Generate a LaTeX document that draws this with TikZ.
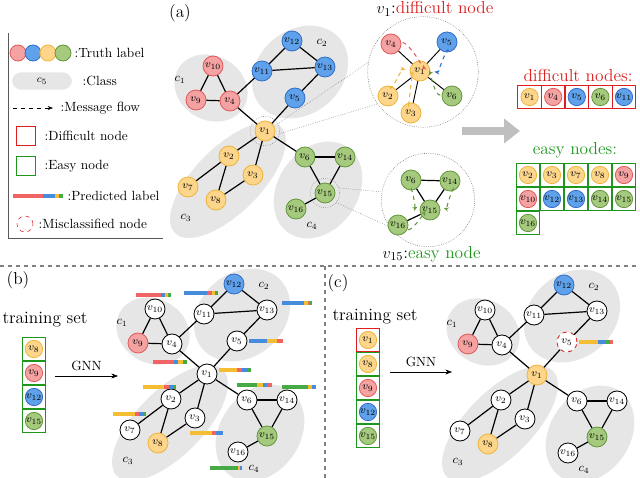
\documentclass[tikz,border=0pt]{standalone}
\usepackage{amsmath,amssymb}
\usepackage{tikz}
\usetikzlibrary{arrows.meta}

\definecolor{redf}{RGB}{244,162,162}\definecolor{redd}{RGB}{225,90,90}
\definecolor{bluf}{RGB}{95,162,235}\definecolor{blud}{RGB}{50,110,200}
\definecolor{ylwf}{RGB}{253,214,140}\definecolor{ylwd}{RGB}{238,180,60}
\definecolor{grnf}{RGB}{165,202,125}\definecolor{grnd}{RGB}{100,150,60}
\definecolor{clsg}{RGB}{230,230,230}
\definecolor{barr}{RGB}{240,100,100}\definecolor{barb}{RGB}{70,140,220}
\definecolor{bary}{RGB}{245,190,50}\definecolor{barg}{RGB}{70,170,70}
\definecolor{boxr}{RGB}{220,30,30}\definecolor{boxg}{RGB}{30,150,30}

\tikzset{
  vx/.style={circle,draw,line width=0.6pt,minimum size=15pt,inner sep=0pt,font=\footnotesize},
  kn/.style={vx,fill=#1f,draw=#1d},
  gn/.style={kn=#1},
  hv1/.style={}, hv5/.style={},
  cls/.style={fill=clsg},
  edge/.style={line width=0.9pt},
  flow/.style={dashed,line width=0.8pt,shorten <=1pt,shorten >=3pt,-{Stealth[length=4pt]}},
  txt/.style={font=\fontsize{10}{12}\selectfont},
  bigt/.style={font=\fontsize{13}{15}\selectfont},
}

% one copy of the class graph, #1 = name prefix
\newcommand{\drawclassgraph}[1]{
  \fill[cls, rotate around={30:(211,88)}] (211,88) ellipse [x radius=38, y radius=32];
  \fill[cls, rotate around={-40:(300,72)}] (300,72) ellipse [x radius=52, y radius=42];
  \fill[cls, rotate around={-45:(228,180)}] (228,180) ellipse [x radius=75, y radius=33];
  \fill[cls, rotate around={-55:(318,190)}] (318,190) ellipse [x radius=52, y radius=40];
  \node[font=\small] at (180,80) {$c_1$};
  \node[font=\small] at (322,43) {$c_2$};
  \node[font=\small] at (186,218) {$c_3$};
  \node[font=\small] at (312,226) {$c_4$};
  \node[gn=ylw,hv1] (#11) at (265,131) {$v_{1}$};
  \node[gn=ylw] (#12) at (229,156) {$v_{2}$};
  \node[gn=ylw] (#13) at (253,175) {$v_{3}$};
  \node[gn=red] (#14) at (230,101) {$v_{4}$};
  \node[gn=blu,hv5] (#15) at (295,98) {$v_{5}$};
  \node[gn=grn] (#16) at (305,157) {$v_{6}$};
  \node[gn=ylw] (#17) at (188,187) {$v_{7}$};
  \node[kn=ylw] (#18) at (216,200) {$v_{8}$};
  \node[kn=red] (#19) at (196,100) {$v_{9}$};
  \node[gn=red] (#110) at (213,66) {$v_{10}$};
  \node[gn=blu] (#111) at (262,71) {$v_{11}$};
  \node[kn=blu] (#112) at (292,41) {$v_{12}$};
  \node[gn=blu] (#113) at (325,67) {$v_{13}$};
  \node[gn=grn] (#114) at (345,157) {$v_{14}$};
  \node[kn=grn] (#115) at (325,193) {$v_{15}$};
  \node[gn=grn] (#116) at (296,209) {$v_{16}$};
  \foreach \s/\t in {10/9,10/4,9/4,4/11,4/1,11/12,11/13,12/13,13/5,5/1,1/2,1/3,1/6,2/7,2/8,3/8,6/14,6/15,14/15,15/16}
    \draw[edge] (#1\s) -- (#1\t);
}

% predicted label bar: x, y, then four segment lengths r b y g
\newcommand{\predbar}[6]{
  \fill[barr] (#1,#2) rectangle ++(#3,4);
  \fill[barb] (#1+#3,#2) rectangle ++(#4,4);
  \fill[bary] (#1+#3+#4,#2) rectangle ++(#5,4);
  \fill[barg] (#1+#3+#4+#5,#2) rectangle ++(#6,4);
}

\begin{document}
\begin{tikzpicture}[x=0.75pt,y=0.75pt,yscale=-1,xscale=1]
  \useasboundingbox (0,0) rectangle (640,478);

  % legend
  \draw[gray!70!black] (8,33) -- (8,238) -- (163,238);
  \foreach \c [count=\i] in {red,blu,ylw,grn}
    \node[kn=\c,minimum size=12pt] (lg\i) at (3+15*\i,53) {};
  \node[txt,anchor=west] (lt1) at (70,53) {:Truth label};
  \node[fill=clsg,rounded corners=7pt,minimum width=45pt,minimum height=13pt,font=\footnotesize] (lc) at (42,81) {$c_5$};
  \node[txt,anchor=west] (lt2) at (78,81) {:Class};
  \coordinate (la) at (13,108); \coordinate (lb) at (53,108);
  \draw[dashed,-{Stealth[length=4pt]}] (la) -- (lb);
  \node[txt,anchor=west] (lt3) at (56,108) {:Message flow};
  \node[draw=boxr,line width=0.8pt,minimum size=14pt] (ld) at (26,136) {};
  \node[txt,anchor=west] (lt4) at (40,136) {:Difficult node};
  \node[draw=boxg,line width=0.8pt,minimum size=14pt] (le) at (26,166) {};
  \node[txt,anchor=west] (lt5) at (40,166) {:Easy node};
  \predbar{13}{194}{30}{12}{4}{4}
  \node[txt,anchor=west] (lt6) at (63,196) {:Predicted label};
  \node[circle,draw=boxr,dashed,minimum size=12pt] (lm) at (25,224) {};
  \node[txt,anchor=west] (lt7) at (34,224) {:Misclassified node};

  % panel (a)
  \node[bigt] (pa) at (180,13) {(a)};
  \drawclassgraph{a}
  \node[circle,draw,densely dotted,gray,minimum size=22pt] (za) at (265,131) {};
  \node[circle,draw,densely dotted,gray,minimum size=22pt] (zb) at (325,193) {};
  \node[circle,draw,densely dotted,gray!70!black,minimum size=83pt] (ca) at (423,72) {};
  \node[circle,draw,densely dotted,gray!70!black,minimum size=70pt] (cb) at (428,200) {};
  \draw[densely dotted,gray] (za.30) -- (ca.170);
  \draw[densely dotted,gray] (za.-10) -- (ca.215);
  \draw[densely dotted,gray] (zb.20) -- (cb.170);
  \draw[densely dotted,gray] (zb.-40) -- (cb.215);
  % difficult node zoom
  \begin{scope}[every node/.append style={minimum size=14pt}]
    \node[kn=ylw] (d1) at (420,71) {$v_{1}$};
    \node[kn=red] (d4) at (391,44) {$v_{4}$};
    \node[kn=blu] (d5) at (447,42) {$v_{5}$};
    \node[kn=ylw] (d2) at (388,96) {$v_{2}$};
    \node[kn=ylw] (d3) at (411,113) {$v_{3}$};
    \node[kn=grn] (d6) at (452,96) {$v_{6}$};
    \foreach \t in {4,5,2,3,6} \draw[line width=0.7pt] (d1) -- (d\t);
    \draw[flow,redd] (d4.10) to[out=10,in=80,looseness=0.8] (d1.75);
    \draw[flow,blud] (d5.-80) to[out=-100,in=10,looseness=0.8] (d1.0);
    \draw[flow,ylwd] (d2.80) to[out=85,in=190,looseness=0.8] (d1.175);
    \draw[flow,ylwd] (d3.100) to[out=100,in=-110,looseness=0.8] (d1.-120);
    \draw[flow,grnd] (d6.175) to[out=175,in=-60,looseness=0.8] (d1.-50);
    \node[kn=grn] (e6) at (411,180) {$v_{6}$};
    \node[kn=grn] (e14) at (450,181) {$v_{14}$};
    \node[kn=grn] (e15) at (430,210) {$v_{15}$};
    \node[kn=grn] (e16) at (398,225) {$v_{16}$};
    \draw[line width=0.9pt] (e6) -- (e14) (e6) -- (e15) (e14) -- (e15) (e15) -- (e16);
    \draw[flow,grnd] (e6.-90) to[out=-90,in=150,looseness=0.8] (e15.150);
    \draw[flow,grnd] (e14.-70) to[out=-90,in=20,looseness=0.8] (e15.20);
    \draw[flow,grnd] (e16.-30) to[out=-10,in=-110,looseness=0.8] (e15.-110);
  \end{scope}
  \node[bigt,anchor=west] (dt) at (372,9) {$v_1$:\textcolor{boxr}{difficult node}};
  \node[bigt,anchor=west] (et) at (378,254) {$v_{15}$:\textcolor{boxg}{easy node}};
  % grey arrow
  \coordinate (ga) at (462,131); \coordinate (gb) at (520,131);
  \draw[line width=6pt,gray!50,-{Triangle[length=12pt,width=18pt]}] (ga) -- (gb);
  % difficult / easy lists
  \node[bigt,text=boxr] (dn) at (578,75) {difficult nodes:};
  \foreach \c/\n [count=\i] in {ylw/1,red/4,blu/5,grn/6,blu/11} {
    \node[draw=boxr,line width=0.8pt,minimum size=17.5pt,inner sep=0pt] (db\i) at (506+23.6*\i,97) {};
    \node[kn=\c,minimum size=13pt] (dv\i) at (db\i) {$v_{\n}$};
  }
  \node[bigt,text=boxg] (en) at (575,150) {easy nodes:};
  \foreach \c/\n [count=\i] in {ylw/2,ylw/3,ylw/7,ylw/8,red/9,red/10,blu/12,blu/13,grn/14,grn/15,grn/16} {
    \pgfmathtruncatemacro\col{mod(\i-1,5)}
    \pgfmathtruncatemacro\row{div(\i-1,5)}
    \node[draw=boxg,line width=0.8pt,minimum size=17.5pt,inner sep=0pt] (eb\i) at (528+24*\col,175+24*\row) {};
    \node[kn=\c,minimum size=13pt] (ev\i) at (eb\i) {$v_{\n}$};
  }

  % dividers
  \draw[dashed,gray,line width=0.8pt] (0,266) -- (640,266);
  \draw[dashed,gray,line width=0.8pt] (325,266) -- (325,478);

  % panel (b)
  \node[bigt] (pb) at (18,280) {(b)};
  \node[bigt] (tb) at (45,320) {training set};
  \foreach \c/\n [count=\i] in {ylw/8,red/9,blu/12,grn/15} {
    \node[draw=boxg,line width=0.8pt,minimum size=17.5pt,inner sep=0pt] (bb\i) at (34,325+24*\i) {};
    \node[kn=\c,minimum size=13pt] (bv\i) at (bb\i) {$v_{\n}$};
  }
  \coordinate (bga) at (55,376); \coordinate (bgb) at (118,376);
  \draw[-{Stealth[length=5pt]}] (bga) -- node[above,txt] {GNN} (bgb);
  \begin{scope}[shift={(-58,243)},gn/.style={vx,fill=white,draw=black}]
    \drawclassgraph{b}
  \end{scope}
  \predbar{136}{293}{25}{4}{3}{3}
  \fill[barb] (184,291) rectangle ++(23,4); \fill[barr] (207,291) rectangle ++(5,4);
  \fill[bary] (212,291) rectangle ++(3,4); \fill[barg] (215,291) rectangle ++(3,4);
  \fill[barb] (282,301) rectangle ++(22,4); \fill[bary] (304,301) rectangle ++(4,4);
  \fill[barr] (308,301) rectangle ++(2,4); \fill[barg] (310,301) rectangle ++(2,4);
  \fill[barb] (249,339) rectangle ++(18,4); \fill[bary] (267,339) rectangle ++(10,4);
  \fill[barr] (277,339) rectangle ++(6,4);
  \predbar{153}{360}{21}{4}{5}{4}
  \fill[bary] (219,368) rectangle ++(18,4); \fill[barr] (237,368) rectangle ++(5,4);
  \fill[barb] (242,368) rectangle ++(5,4); \fill[barg] (247,368) rectangle ++(4,4);
  \fill[bary] (143,385) rectangle ++(21,4); \fill[barr] (164,385) rectangle ++(5,4);
  \fill[barb] (169,385) rectangle ++(4,4); \fill[barg] (173,385) rectangle ++(3,4);
  \fill[bary] (113,412) rectangle ++(22,4); \fill[barr] (135,412) rectangle ++(4,4);
  \fill[barb] (139,412) rectangle ++(4,4); \fill[barg] (143,412) rectangle ++(3,4);
  \fill[bary] (190,431) rectangle ++(22,4); \fill[barr] (212,431) rectangle ++(4,4);
  \fill[barb] (216,431) rectangle ++(7,4);
  \fill[barg] (237,383) rectangle ++(20,4); \fill[bary] (257,383) rectangle ++(6,4);
  \fill[barb] (263,383) rectangle ++(4,4); \fill[barr] (267,383) rectangle ++(5,4);
  \fill[barg] (282,385) rectangle ++(26,4); \fill[bary] (308,385) rectangle ++(4,4);
  \fill[barb] (312,385) rectangle ++(4,4);
  \fill[barg] (210,466) rectangle ++(28,4); \fill[bary] (238,466) rectangle ++(2,4);
  \fill[barb] (240,466) rectangle ++(2,4);

  % panel (c)
  \node[bigt] (pc) at (338,283) {(c)};
  \node[bigt] (tc) at (375,317) {training set};
  \foreach \c/\n/\k [count=\i] in {ylw/1/boxr,ylw/8/boxg,red/9/boxg,blu/12/boxg,grn/15/boxg} {
    \node[draw=\k,line width=0.8pt,minimum size=17.5pt,inner sep=0pt] (cb\i) at (368,316+24*\i) {};
    \node[kn=\c,minimum size=13pt] (cv\i) at (cb\i) {$v_{\n}$};
  }
  \coordinate (cga) at (390,372); \coordinate (cgb) at (452,372);
  \draw[-{Stealth[length=5pt]}] (cga) -- node[above,txt] {GNN} (cgb);
  \begin{scope}[shift={(272,244)},gn/.style={vx,fill=white,draw=black},
      hv1/.style={fill=ylwf,draw=ylwd},hv5/.style={draw=boxr,dashed}]
    \drawclassgraph{c}
  \end{scope}
  \fill[bary] (579,340) rectangle ++(19,4); \fill[barb] (598,340) rectangle ++(8,4);
  \fill[barg] (606,340) rectangle ++(4,4); \fill[barr] (610,340) rectangle ++(3,4);
\end{tikzpicture}
\end{document}
